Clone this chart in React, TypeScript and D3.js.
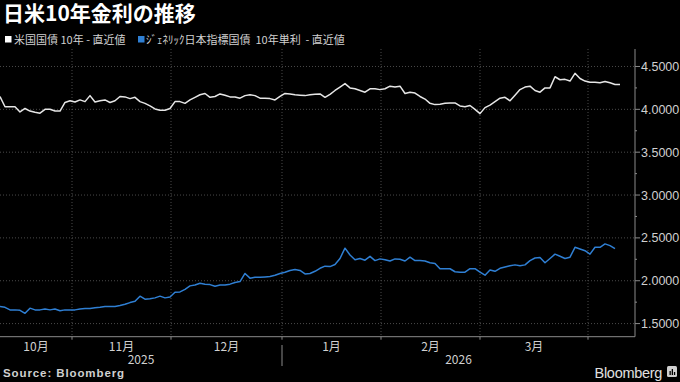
import React from "react";
import * as d3 from "d3";

const usValues: number[] = [
  4.15, 4.03, 4.03, 4.03, 3.97, 4.01, 3.98, 3.965, 3.955, 4.0,
  4.0, 3.98, 3.98, 4.08, 4.1, 4.085, 4.11, 4.09, 4.16, 4.085,
  4.1, 4.11, 4.08, 4.1, 4.15, 4.145, 4.125, 4.14, 4.09, 4.07,
  4.04, 4.005, 3.99, 3.99, 4.01, 4.09, 4.09, 4.07, 4.11, 4.14,
  4.17, 4.185, 4.14, 4.15, 4.18, 4.165, 4.145, 4.145, 4.13, 4.16,
  4.17, 4.16, 4.13, 4.13, 4.125, 4.11, 4.15, 4.185, 4.18, 4.17,
  4.165, 4.16, 4.17, 4.175, 4.18, 4.14, 4.175, 4.22, 4.26, 4.3,
  4.25, 4.24, 4.22, 4.2, 4.24, 4.24, 4.23, 4.24, 4.27, 4.26,
  4.27, 4.185, 4.2, 4.19, 4.15, 4.12, 4.07, 4.055, 4.06, 4.07,
  4.075, 4.075, 4.04, 4.03, 4.045, 4.0, 3.95, 4.02, 4.05, 4.09,
  4.13, 4.14, 4.1, 4.165, 4.23, 4.26, 4.27, 4.22, 4.2, 4.25,
  4.25, 4.38, 4.345, 4.35, 4.33, 4.42, 4.36, 4.33, 4.315, 4.315,
  4.31, 4.325, 4.31, 4.29, 4.29,
];

const jpValues: number[] = [
  1.7, 1.69, 1.66, 1.66, 1.655, 1.62, 1.68, 1.66, 1.66, 1.67,
  1.66, 1.67, 1.65, 1.66, 1.66, 1.66, 1.67, 1.675, 1.675, 1.685,
  1.69, 1.7, 1.7, 1.7, 1.71, 1.725, 1.745, 1.76, 1.82, 1.785,
  1.79, 1.8, 1.82, 1.8, 1.81, 1.865, 1.87, 1.9, 1.94, 1.95,
  1.97, 1.96, 1.955, 1.935, 1.95, 1.95, 1.96, 1.98, 1.99, 2.085,
  2.03, 2.04, 2.04, 2.045, 2.05, 2.065, 2.085, 2.1, 2.12, 2.13,
  2.12, 2.08, 2.085, 2.11, 2.145, 2.17, 2.165, 2.19, 2.26, 2.38,
  2.3, 2.245, 2.26, 2.24, 2.285, 2.235, 2.255, 2.245, 2.23, 2.255,
  2.25, 2.23, 2.275, 2.235, 2.235, 2.23, 2.21, 2.2, 2.14, 2.14,
  2.14, 2.105, 2.1, 2.1, 2.14, 2.14, 2.1, 2.065, 2.125, 2.11,
  2.145, 2.16, 2.175, 2.185, 2.175, 2.185, 2.235, 2.265, 2.27, 2.21,
  2.26, 2.31, 2.285, 2.26, 2.275, 2.39, 2.37, 2.35, 2.31, 2.39,
  2.39, 2.43, 2.41, 2.375,
];

// month boundaries expressed in trading-day index
const monthStarts: number[] = [14.4, 34.2, 56.4, 76.2, 96, 117.6];
const monthLabels: string[] = ["10月", "11月", "12月", "1月", "2月", "3月"];
const yearLabels: string[] = ["2025", "2026"];
const yearStartMonthIndex = 2; // boundary index where 2026 (1月) starts
const yTicks: number[] = [1.5, 2.0, 2.5, 3.0, 3.5, 4.0, 4.5];
const yMinorTicks: number[] = [1.75, 2.25, 2.75, 3.25, 3.75, 4.25];

const W = 680;
const H = 382;
const plotLeft = 0;
const plotRight = 635;
const plotTop = 49;
const plotBottom = 336.7;
const xDomainMax = 127;

const US_COLOR = "#e6e6e6";
const JP_COLOR = "#2f7fd3";
const AXIS_COLOR = "#8a8a8a";
const GRID_COLOR = "#4a4a4a";
const TEXT_COLOR = "#d0d0d0";

export default function App() {
  const x = d3.scaleLinear().domain([0, xDomainMax]).range([plotLeft, plotRight]);
  const y = d3.scaleLinear().domain([1.347, 4.704]).range([plotBottom, plotTop]);

  const line = d3
    .line<number>()
    .x((_, i) => x(i))
    .y((d) => y(d));

  const bounds = [0, ...monthStarts, xDomainMax];
  const monthCenters = monthLabels.map((_, i) => (bounds[i] + bounds[i + 1]) / 2);
  const yearBounds = [0, monthStarts[yearStartMonthIndex], xDomainMax];
  const yearCenters = yearLabels.map((_, i) => (yearBounds[i] + yearBounds[i + 1]) / 2);

  const jpFont = "'Noto Sans CJK JP', 'Noto Sans', sans-serif";
  const numFont = "'Liberation Sans', Arial, sans-serif";

  return (
    <div style={{ position: "absolute", left: 0, top: 0, width: W, height: H, background: "#000" }}>
      <svg width={W} height={H} style={{ display: "block", background: "#000" }}>
        <rect x={0} y={0} width={W} height={H} fill="#000" />
        {/* Title */}
        <text x={3} y={21} fill="#ffffff" fontFamily={jpFont} fontWeight="bold" fontSize={21}>
          日米10年金利の推移
        </text>
        {/* Legend */}
        <rect x={5} y={36} width={6.5} height={6.5} fill="#ffffff" />
        <text x={14} y={43.5} fill={TEXT_COLOR} fontFamily={jpFont} fontSize={11} style={{ whiteSpace: "pre" }}>
          米国国債 10年 - 直近値
        </text>
        <rect x={138} y={36} width={6.5} height={6.5} fill={JP_COLOR} />
        <text x={146} y={43.5} fill={TEXT_COLOR} fontFamily={jpFont} fontSize={11} style={{ whiteSpace: "pre" }}>
          ｼﾞｪﾈﾘｯｸ日本指標国債  10年単利  - 直近値
        </text>

        {/* Horizontal grid */}
        {yTicks.map((t) => (
          <line key={"hg" + t} x1={plotLeft} x2={plotRight} y1={y(t)} y2={y(t)} stroke={GRID_COLOR} strokeWidth={1} strokeDasharray="1,2" />
        ))}
        {/* Vertical grid */}
        {monthStarts.map((m, i) => (
          <line key={"vg" + i} x1={x(m)} x2={x(m)} y1={plotTop} y2={plotBottom} stroke={GRID_COLOR} strokeWidth={1} strokeDasharray="1,2" />
        ))}

        {/* Lines */}
        <path d={line(jpValues) || ""} fill="none" stroke={JP_COLOR} strokeWidth={1.5} strokeLinejoin="round" />
        <path d={line(usValues) || ""} fill="none" stroke={US_COLOR} strokeWidth={1.5} strokeLinejoin="round" />

        {/* Bottom axis */}
        <line x1={plotLeft} x2={plotRight} y1={plotBottom} y2={plotBottom} stroke={AXIS_COLOR} strokeWidth={1} />
        {monthStarts.map((m, i) => (
          <line key={"mt" + i} x1={x(m)} x2={x(m)} y1={plotBottom} y2={plotBottom + 3} stroke={AXIS_COLOR} strokeWidth={1} />
        ))}
        {monthLabels.map((l, i) => (
          <text key={"ml" + i} x={x(monthCenters[i])} y={351} textAnchor="middle" fill={TEXT_COLOR} fontFamily={jpFont} fontSize={12}>
            {l}
          </text>
        ))}
        {yearLabels.map((l, i) => (
          <text key={"yl" + i} x={x(yearCenters[i])} y={364} textAnchor="middle" fill={TEXT_COLOR} fontFamily={jpFont} fontSize={12}>
            {l}
          </text>
        ))}
        <line
          x1={x(monthStarts[yearStartMonthIndex])}
          x2={x(monthStarts[yearStartMonthIndex])}
          y1={345}
          y2={366}
          stroke={AXIS_COLOR}
          strokeWidth={1}
        />

        {/* Right axis */}
        <line x1={plotRight} x2={plotRight} y1={plotTop} y2={plotBottom} stroke={AXIS_COLOR} strokeWidth={1} />
        {yTicks.map((t) => (
          <g key={"yt" + t}>
            <line x1={plotRight} x2={plotRight + 5} y1={y(t)} y2={y(t)} stroke={AXIS_COLOR} strokeWidth={1} />
            <text x={plotRight + 6} y={y(t) + 4.5} fill={TEXT_COLOR} fontFamily={numFont} fontSize={12.5}>
              {d3.format(".4f")(t)}
            </text>
          </g>
        ))}
        {yMinorTicks.map((t) => (
          <line key={"ymt" + t} x1={plotRight} x2={plotRight + 2} y1={y(t)} y2={y(t)} stroke={AXIS_COLOR} strokeWidth={1} />
        ))}

        {/* Footer */}
        <text x={3} y={377} fill={TEXT_COLOR} fontFamily={numFont} fontWeight="bold" fontSize={11.5} letterSpacing={0.9}>
          Source: Bloomberg
        </text>
        <text x={662} y={378} textAnchor="end" fill="#e0e0e0" fontFamily={numFont} fontSize={14.5} letterSpacing={-0.3}>
          Bloomberg
        </text>
        <rect x={667} y={366} width={10} height={11} rx={1.5} fill="#cfcfcf" />
        <rect x={669.5} y={371} width={1.3} height={4} fill="#000" />
        <rect x={671.7} y={369} width={1.3} height={6} fill="#000" />
        <rect x={673.9} y={372} width={1.3} height={3} fill="#000" />
      </svg>
    </div>
  );
}
